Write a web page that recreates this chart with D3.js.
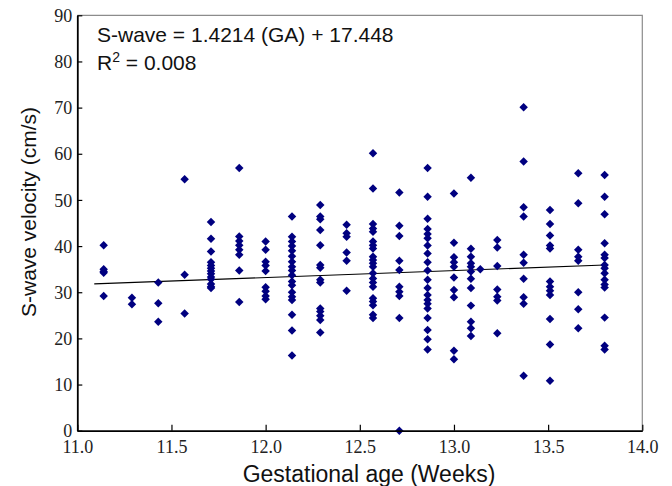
<!DOCTYPE html>
<html>
<head>
<meta charset="utf-8">
<script src="https://cdn.jsdelivr.net/npm/d3@7"></script>
<style>
  body { margin: 0; background: #fff; }
  .tick text { font-family: "Liberation Serif", "Times New Roman", serif; font-size: 18px; fill: #222; }
  .lbl { font-family: "Liberation Sans", Arial, sans-serif; fill: #111; }
</style>
</head>
<body>
<svg id="chart" width="672" height="486"></svg>
<script>
// gestational age columns (weeks) and the S-wave velocities read at each one
var gaWeeks = [11.14, 11.29, 11.43, 11.57, 11.71, 11.86, 12.0, 12.14, 12.29, 12.43, 12.57, 12.71,
               12.86, 13.0, 13.09, 13.14, 13.23, 13.37, 13.51, 13.66, 13.80];
var swave = [
  [40.2, 35.0, 34.5, 34.2, 29.2],
  [28.8, 27.4],
  [32.1, 27.6, 23.6],
  [54.5, 33.8, 25.4],
  [45.2, 41.6, 38.8, 36.5, 35.8, 35.2, 34.6, 34.0, 33.3, 32.8, 31.8, 31.2, 30.9],
  [56.9, 42.1, 41.1, 40.2, 39.2, 38.1, 34.7, 27.9],
  [41.0, 39.2, 36.6, 35.8, 34.6, 31.1, 30.2, 29.2, 28.5],
  [46.4, 42.0, 41.0, 40.0, 39.0, 37.8, 36.6, 35.5, 34.7, 33.7, 32.3, 31.5, 30.0, 29.0, 28.3, 25.1, 21.7, 16.3],
  [48.9, 46.4, 45.8, 43.5, 40.2, 35.9, 35.3, 32.7, 32.1, 26.5, 25.8, 24.9, 24.0, 21.3],
  [44.6, 42.8, 42.0, 38.6, 36.8, 30.3],
  [60.1, 52.5, 44.8, 43.8, 43.1, 41.0, 40.2, 39.5, 37.7, 37.0, 36.3, 35.5, 34.1, 33.0, 32.1, 31.2, 28.7, 28.0, 27.2, 25.1, 24.4],
  [51.6, 44.4, 42.2, 36.8, 34.8, 31.2, 30.1, 29.2, 24.4, 0],
  [56.9, 50.7, 45.9, 43.7, 42.6, 41.7, 40.1, 38.4, 36.5, 34.7, 32.7, 30.9, 29.4, 28.3, 27.5, 26.5, 24.4, 21.8, 19.8, 17.6],
  [51.4, 40.7, 37.6, 36.5, 35.5, 33.2, 30.5, 28.9, 17.3, 15.5],
  [54.8, 39.4, 37.7, 36.3, 35.5, 34.5, 32.9, 30.9, 27.1, 23.6, 22.2, 20.5],
  [35.0],
  [41.3, 39.7, 35.7, 30.6, 29.0, 28.2, 21.1],
  [70.1, 58.3, 48.4, 46.4, 38.1, 36.4, 32.9, 28.9, 27.5, 11.9],
  [47.8, 44.8, 42.3, 40.1, 39.5, 32.3, 31.2, 30.3, 29.4, 24.2, 18.7, 10.8],
  [55.8, 49.3, 39.2, 37.7, 36.8, 30.0, 26.3, 22.2],
  [55.4, 50.7, 46.9, 40.6, 38.1, 37.4, 35.9, 35.2, 34.1, 32.7, 31.7, 31.0, 24.5, 18.4, 17.6]
];
// fitted line as drawn
var fitX = [11.09, 13.80];
var fitY = [31.8, 35.9];
var xTicks = [11.0, 11.5, 12.0, 12.5, 13.0, 13.5, 14.0];
var yTicks = [0, 10, 20, 30, 40, 50, 60, 70, 80, 90];

var plotL = 77.3, plotR = 642.3, plotT = 15.3, plotB = 430.7;

var svg = d3.select("#chart");
var x = d3.scaleLinear().domain([11, 14]).range([plotL, plotR]);
var y = d3.scaleLinear().domain([0, 90]).range([plotB, plotT]);

// frame: grey top/right
svg.append("path")
  .attr("d", "M" + plotL + "," + plotT + "H" + plotR + "V" + plotB)
  .attr("fill", "none").attr("stroke", "#8c8c8c").attr("stroke-width", 1.2);

var points = [];
gaWeeks.forEach(function (w, i) {
  swave[i].forEach(function (v) { points.push({ga: w, v: v}); });
});

// regression line
svg.append("line")
  .attr("x1", x(fitX[0])).attr("y1", y(fitY[0]))
  .attr("x2", x(fitX[1])).attr("y2", y(fitY[1]))
  .attr("stroke", "#000").attr("stroke-width", 1.2);

var diamond = d3.symbol().type(d3.symbolSquare).size(36);
svg.append("g").selectAll("path")
  .data(points)
  .enter().append("path")
  .attr("d", diamond)
  .attr("transform", function (d) { return "translate(" + x(d.ga) + "," + y(d.v) + ") rotate(45)"; })
  .attr("fill", "#000080");

var xAxis = svg.append("g")
  .attr("transform", "translate(0," + plotB + ")")
  .call(d3.axisBottom(x).tickValues(xTicks).tickFormat(d3.format(".1f"))
    .tickSizeInner(-6).tickSizeOuter(0).tickPadding(10));
var yAxis = svg.append("g")
  .attr("transform", "translate(" + plotL + ",0)")
  .call(d3.axisLeft(y).tickValues(yTicks).tickSizeInner(-5).tickSizeOuter(0).tickPadding(5));
[xAxis, yAxis].forEach(function (a) {
  a.select(".domain").attr("stroke", "#000").attr("stroke-width", 1.8);
  a.selectAll(".tick line").attr("stroke", "#000").attr("stroke-width", 1.2);
});
yAxis.selectAll(".tick text").attr("dy", "0.34em");

// equation + R^2
svg.append("text").attr("class", "lbl")
  .attr("x", 97).attr("y", 41.5).style("font-size", "21px")
  .text("S-wave = 1.4214 (GA) + 17.448");
var r2 = svg.append("text").attr("class", "lbl")
  .attr("x", 97).attr("y", 70).style("font-size", "21px");
r2.append("tspan").text("R");
r2.append("tspan").attr("dy", -8).style("font-size", "14px").text("2");
r2.append("tspan").attr("dy", 8).text(" = 0.008");

// axis titles
svg.append("text").attr("class", "lbl")
  .attr("x", 369).attr("y", 481.5).attr("text-anchor", "middle").style("font-size", "23px")
  .text("Gestational age (Weeks)");
svg.append("text").attr("class", "lbl")
  .attr("transform", "translate(36,212) rotate(-90)").attr("text-anchor", "middle").style("font-size", "21px")
  .text("S-wave velocity (cm/s)");
</script>
</body>
</html>
